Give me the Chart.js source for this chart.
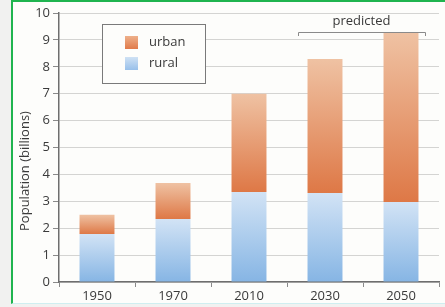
<!DOCTYPE html>
<html>
<head>
<meta charset="utf-8">
<script src="https://cdn.jsdelivr.net/npm/chart.js@4.4.0/dist/chart.umd.min.js"></script>
<style>
  html, body { margin: 0; padding: 0; }
  body { width: 445px; height: 307px; background: #f1f1f0; position: relative; overflow: hidden; }
  #frame {
    position: absolute; left: 11px; top: 0; width: 434px; height: 304px;
    background: #fdfdfb; border-left: 2px solid #1fb44f; border-top: 2px solid #1fb44f;
    border-bottom: 1px solid #cfeef0; box-sizing: border-box;
  }
  #wrap { position: absolute; left: 0; top: 0; width: 445px; height: 307px; }
</style>
</head>
<body>
<div id="frame"></div>
<div id="wrap"><canvas id="popChart" width="445" height="307"></canvas></div>
<script>
const years = ['1950', '1970', '2010', '2030', '2050'];
const rural = [1.78, 2.34, 3.35, 3.31, 2.97];
const urban = [0.72, 1.34, 3.65, 4.98, 6.29];
const yTicks = [0, 1, 2, 3, 4, 5, 6, 7, 8, 9, 10];
const predictedYears = ['2030', '2050'];

const FONT = '"Open Sans", "DejaVu Sans", sans-serif';
const TEXT = '#3a3a3a';

function segmentGradient(ctx, from, to, light, dark) {
  const chart = ctx.chart;
  const y = chart.scales.y;
  if (!y || !chart.chartArea) return dark;
  const i = ctx.dataIndex;
  const top = y.getPixelForValue(to[i]);
  const bottom = y.getPixelForValue(from[i]);
  const g = chart.ctx.createLinearGradient(0, top, 0, bottom);
  g.addColorStop(0, light);
  g.addColorStop(1, dark);
  return g;
}

const ruralTop = rural;
const urbanTop = rural.map((r, i) => r + urban[i]);
const zeros = rural.map(() => 0);

const legendBox = {
  id: 'legendBox',
  afterDatasetsDraw(chart) {
    const c = chart.ctx;
    c.save();
    c.fillStyle = '#fdfdfb';
    c.strokeStyle = '#7a7a7a';
    c.lineWidth = 1;
    c.fillRect(102, 24, 103, 59);
    c.strokeRect(102.5, 24.5, 103, 59);
    const items = [
      { label: 'urban', light: '#eeb08a', dark: '#e07a4a', y: 36 },
      { label: 'rural', light: '#cfe1f4', dark: '#98c0ea', y: 57 }
    ];
    c.font = '13px ' + FONT;
    c.textBaseline = 'middle';
    items.forEach((it) => {
      const g = c.createLinearGradient(0, it.y, 0, it.y + 13);
      g.addColorStop(0, it.light);
      g.addColorStop(1, it.dark);
      c.fillStyle = g;
      c.fillRect(125, it.y, 13, 13);
      c.fillStyle = TEXT;
      c.fillText(it.label, 149, it.y + 6.5);
    });
    c.restore();
  }
};

const extras = {
  id: 'extras',
  afterDraw(chart) {
    const c = chart.ctx;
    const x = chart.scales.x;
    const a = x.getPixelForValue(years.indexOf(predictedYears[0])) - 27;
    const b = x.getPixelForValue(years.indexOf(predictedYears[1])) + 24;
    c.save();
    c.strokeStyle = '#8a8a8a';
    c.lineWidth = 1;
    c.beginPath();
    c.moveTo(a + 0.5, 36);
    c.lineTo(a + 0.5, 32.5);
    c.lineTo(b + 0.5, 32.5);
    c.lineTo(b + 0.5, 36);
    c.stroke();
    c.fillStyle = TEXT;
    c.font = '13px ' + FONT;
    c.textAlign = 'center';
    c.textBaseline = 'middle';
    c.fillText('predicted', (a + b) / 2, 21);
    c.translate(25, 171);
    c.rotate(-Math.PI / 2);
    c.fillText('Population (billions)', 0, 0);
    c.restore();
  }
};

new Chart(document.getElementById('popChart'), {
  type: 'bar',
  data: {
    labels: years,
    datasets: [
      {
        label: 'rural',
        data: rural,
        backgroundColor: (ctx) => segmentGradient(ctx, zeros, ruralTop, '#d2e3f5', '#86b5e4'),
        barPercentage: 0.46,
        categoryPercentage: 1,
        borderWidth: 0
      },
      {
        label: 'urban',
        data: urban,
        backgroundColor: (ctx) => segmentGradient(ctx, ruralTop, urbanTop, '#efc2a3', '#de7846'),
        barPercentage: 0.46,
        categoryPercentage: 1,
        borderWidth: 0
      }
    ]
  },
  options: {
    responsive: false,
    animation: false,
    layout: { padding: { left: 0, right: 6, top: 13, bottom: 0 } },
    plugins: {
      legend: { display: false },
      tooltip: { enabled: false }
    },
    scales: {
      x: {
        stacked: true,
        grid: { display: true, drawOnChartArea: false, tickLength: 5, color: '#8a8a8a', offset: true },
        border: { color: '#6e6e6e', width: 1.5 },
        ticks: { color: TEXT, font: { family: FONT, size: 13 }, padding: 1 },
        afterFit: (s) => { s.height = 25; }
      },
      y: {
        stacked: true,
        min: 0,
        max: 10,
        afterBuildTicks: (s) => { s.ticks = yTicks.map((v) => ({ value: v })); },
        grid: { color: '#d4d4d2', tickColor: '#8a8a8a', tickLength: 6, lineWidth: 1 },
        border: { color: '#6e6e6e', width: 1.5 },
        ticks: { color: TEXT, font: { family: FONT, size: 13 }, padding: 3 },
        afterFit: (s) => { s.width = 59; }
      }
    }
  },
  plugins: [legendBox, extras]
});
</script>
</body>
</html>
